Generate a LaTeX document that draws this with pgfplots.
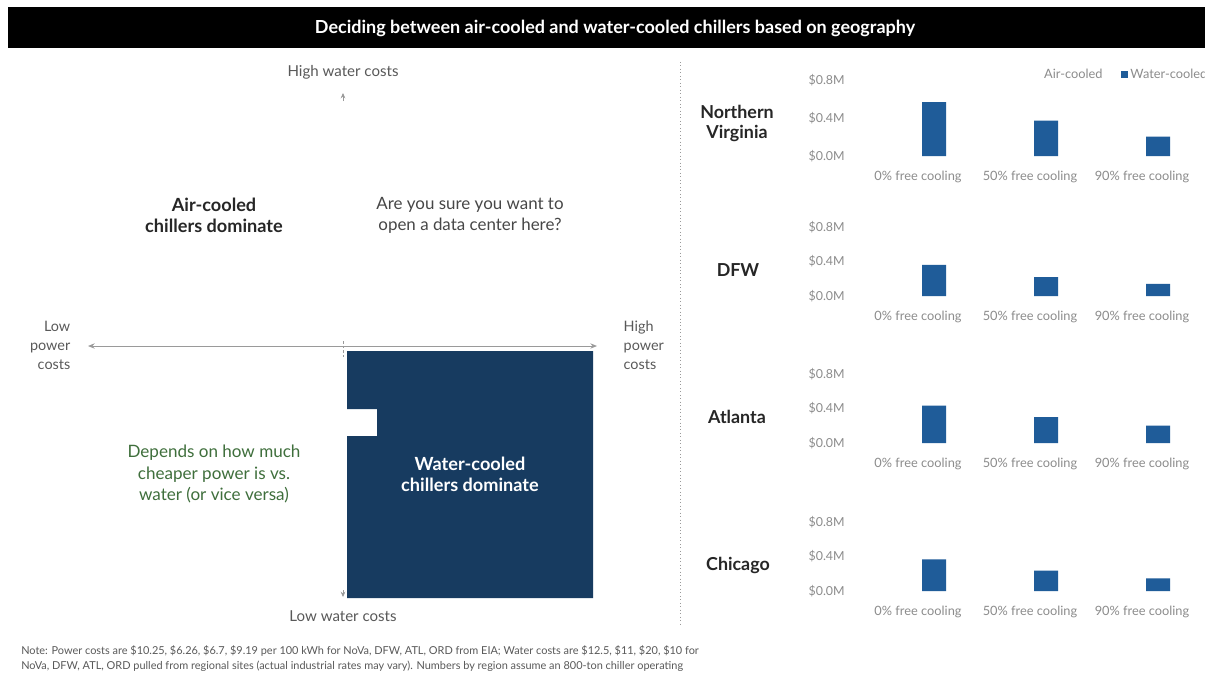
\documentclass[border=0pt]{standalone}
\usepackage{pgfplots}
\pgfplotsset{compat=1.18}
\usepackage{fontspec}
\setmainfont{Lato}
\usetikzlibrary{arrows.meta}
\definecolor{navy}{HTML}{173B60}
\definecolor{barblue}{HTML}{1F5C99}
\definecolor{greentxt}{HTML}{3F6F3C}
\definecolor{labgray}{HTML}{595959}
\definecolor{tickgray}{HTML}{8C8C8C}
\definecolor{darktxt}{HTML}{262626}
\definecolor{linegray}{HTML}{9A9A9A}
\pgfplotsset{barchart/.style={
  scale only axis, width=252pt, height=52pt,
  xmin=-0.5, xmax=2.5, ymin=0, ymax=0.8,
  axis line style={draw=none}, major tick length=0pt,
  xtick={0,1,2}, xticklabels={0\% free cooling,50\% free cooling,90\% free cooling},
  ytick={0,0.4,0.8}, yticklabels={\$0.0M,\$0.4M,\$0.8M},
  tick label style={font=\fontsize{9.3}{10}\selectfont, text=tickgray},
  xticklabel style={font=\fontsize{9.6}{10}\selectfont, yshift=-7.5pt},
  yticklabel style={xshift=-9.5pt},
  clip=false, anchor=south west,
}}
\begin{document}
\begin{tikzpicture}
\begin{scope}[x=0.75pt,y=-0.75pt]
\fill[white] (0,0) rectangle (1205,672);
% title bar
\fill[black] (8,7) rectangle (1205,48);
\node[text=white] at (615,28) {\resizebox{450pt}{!}{\fontsize{12}{14}\selectfont\bfseries Deciding between air-cooled and water-cooled chillers based on geography}};
% divider
\draw[linegray, dotted, line width=0.6pt] (680,62) -- (680,625);
% quadrant
\fill[navy] (347,351) -- (593,351) -- (593,598) -- (347,598) -- (347,436) -- (377,436) -- (377,409) -- (347,409) -- cycle;
\draw[linegray, line width=0.75pt, {Stealth[length=5pt,width=4pt]}-{Stealth[length=5pt,width=4pt]}] (88,346) -- (597,346);
\draw[linegray, line width=0.6pt, -{Stealth[length=4pt,width=3.5pt]}] (343,101) -- (343,93);
\draw[linegray, line width=0.6pt, -{Stealth[length=4pt,width=3.5pt]}] (343,590) -- (343,597);
\draw[linegray, line width=0.5pt, dash pattern=on 2pt off 1.5pt] (343,341) -- (343,357);
\node[text=labgray, font=\fontsize{11.3}{12}\selectfont] at (343,72) {High water costs};
\node[text=labgray, font=\fontsize{11.3}{12}\selectfont] at (343,616) {Low water costs};
\node[text=labgray, font=\fontsize{10.8}{14.2}\selectfont, align=right, anchor=east] at (75,345) {Low\\power\\costs};
\node[text=labgray, font=\fontsize{10.8}{14.2}\selectfont, align=left, anchor=west] at (619,345) {High\\power\\costs};
\node[text=darktxt, font=\fontsize{13.6}{15.8}\selectfont\bfseries, align=center] at (214,215) {Air-cooled\\chillers dominate};
\node[text=darktxt!85, font=\fontsize{12.7}{15.8}\selectfont, align=center] at (470,215) {Are you sure you want to\\open a data center here?};
\node[text=greentxt, font=\fontsize{12.8}{15.8}\selectfont, align=center] at (214,474) {Depends on how much\\cheaper power is vs.\\water (or vice versa)};
\node[text=white, font=\fontsize{13.6}{15.8}\selectfont\bfseries, align=center] at (470,474) {Water-cooled\\chillers dominate};
% region labels
\node[text=darktxt, font=\fontsize{13.4}{15}\selectfont\bfseries, align=center] at (737,123) {Northern\\Virginia};
\node[text=darktxt, font=\fontsize{13.4}{15}\selectfont\bfseries] at (738,270) {DFW};
\node[text=darktxt, font=\fontsize{13.4}{15}\selectfont\bfseries] at (737,417) {Atlanta};
\node[text=darktxt, font=\fontsize{13.4}{15}\selectfont\bfseries] at (738,565) {Chicago};
% note
\node[text=labgray, font=\fontsize{8.2}{9}\selectfont, anchor=west, inner sep=0pt] at (21,651) {Note: Power costs are \$10.25, \$6.26, \$6.7, \$9.19 per 100 kWh for NoVa, DFW, ATL, ORD from EIA; Water costs are \$12.5, \$11, \$20, \$10 for};
\node[text=labgray, font=\fontsize{8.2}{9}\selectfont, anchor=west, inner sep=0pt] at (21,666) {NoVa, DFW, ATL, ORD pulled from regional sites (actual industrial rates may vary). Numbers by region assume an 800-ton chiller operating};
\end{scope}
% Northern Virginia
\begin{axis}[barchart, at={(646.5pt,-117pt)}, height=57pt,
  legend columns=2,
  legend style={draw=none, fill=none, font=\fontsize{9.6}{10}\selectfont, text=tickgray,
    at={(0.50,1.07)}, anchor=west, /tikz/every even column/.append style={column sep=12pt}},
  legend image code/.code={\fill[#1] (0pt,-2.5pt) rectangle (5pt,2.5pt);}]
\addlegendimage{white}
\addlegendentry{Air-cooled}
\addplot[ybar, bar width=18pt, bar shift=12pt, fill=barblue, draw=none] coordinates {(0,0.568) (1,0.372) (2,0.203)};
\addlegendentry{Water-cooled}
\end{axis}
% DFW
\begin{axis}[barchart, at={(646.5pt,-222pt)}]
\addplot[ybar, bar width=18pt, bar shift=12pt, fill=barblue, draw=none] coordinates {(0,0.358) (1,0.219) (2,0.139)};
\end{axis}
% Atlanta
\begin{axis}[barchart, at={(646.5pt,-332.25pt)}]
\addplot[ybar, bar width=18pt, bar shift=12pt, fill=barblue, draw=none] coordinates {(0,0.43) (1,0.30) (2,0.20)};
\end{axis}
% Chicago
\begin{axis}[barchart, at={(646.5pt,-443.25pt)}]
\addplot[ybar, bar width=18pt, bar shift=12pt, fill=barblue, draw=none] coordinates {(0,0.366) (1,0.234) (2,0.147)};
\end{axis}
\pgfresetboundingbox
\path[use as bounding box] (0pt,0pt) rectangle (903.75pt,-504pt);
\end{tikzpicture}
\end{document}
